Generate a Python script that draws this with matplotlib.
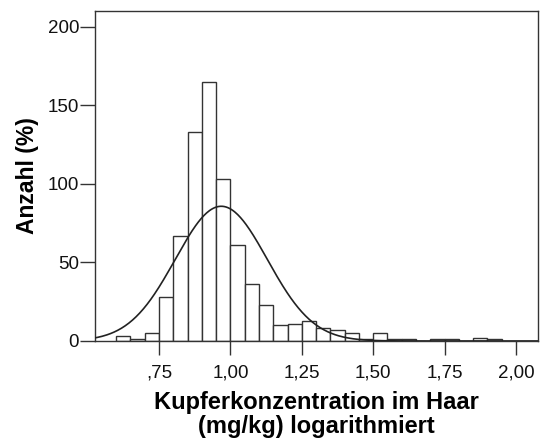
import numpy as np
import matplotlib
matplotlib.use("Agg")
import matplotlib.pyplot as plt
from matplotlib.ticker import FixedLocator, FixedFormatter

plt.rcParams["font.family"] = ["Liberation Sans", "DejaVu Sans"]

# Histogram bins (width 0.05) of log copper concentration in hair
bin_lefts = [0.60, 0.65, 0.70, 0.75, 0.80, 0.85, 0.90, 0.95, 1.00, 1.05,
             1.10, 1.15, 1.20, 1.25, 1.30, 1.35, 1.40, 1.45, 1.50, 1.55,
             1.60, 1.65, 1.70, 1.75, 1.80, 1.85, 1.90]
counts = [3, 1, 5, 28, 67, 133, 165, 103, 61, 36,
          23, 10, 11, 13, 8, 7, 5, 1, 5, 1,
          1, 0, 1, 1, 0, 2, 1]
bin_width = 0.05

# Fitted normal curve parameters
curve_mean = 0.968
curve_sd = 0.161

x_ticks = [0.75, 1.00, 1.25, 1.50, 1.75, 2.00]
x_tick_labels = [",75", "1,00", "1,25", "1,50", "1,75", "2,00"]
y_ticks = [0, 50, 100, 150, 200]

fig = plt.figure(figsize=(5.43, 4.41), dpi=100)
ax = fig.add_axes([0.175, 0.2268, 0.8158, 0.7482])

edge = "#333333"
for left, c in zip(bin_lefts, counts):
    if c > 0:
        ax.bar(left, c, width=bin_width, align="edge", facecolor="white",
               edgecolor=edge, linewidth=1.0, zorder=2)

n_total = sum(counts)
xs = np.linspace(0.50, 2.10, 500)
pdf = np.exp(-0.5 * ((xs - curve_mean) / curve_sd) ** 2) / (curve_sd * np.sqrt(2 * np.pi))
ax.plot(xs, n_total * bin_width * pdf, color="#222222", linewidth=1.2, zorder=3)

ax.set_xlim(0.526, 2.077)
ax.set_ylim(0, 210)

ax.xaxis.set_major_locator(FixedLocator(x_ticks))
ax.xaxis.set_major_formatter(FixedFormatter(x_tick_labels))
ax.set_yticks(y_ticks)

ax.tick_params(axis="x", direction="out", length=10, width=1.0, color=edge,
               labelsize=13.5, pad=7, labelcolor="#111111")
ax.tick_params(axis="y", direction="out", length=11, width=1.0, color=edge,
               labelsize=13.5, pad=0.5, labelcolor="#111111")

for sp in ax.spines.values():
    sp.set_color(edge)
    sp.set_linewidth(1.0)

ax.set_xlabel("Kupferkonzentration im Haar\n(mg/kg) logarithmiert",
              fontsize=17, fontweight="bold", linespacing=1.06, labelpad=7)
ax.set_ylabel("Anzahl (%)", fontsize=16.5, fontweight="bold", labelpad=6)

fig.savefig("out.png", dpi=100, facecolor="white")
